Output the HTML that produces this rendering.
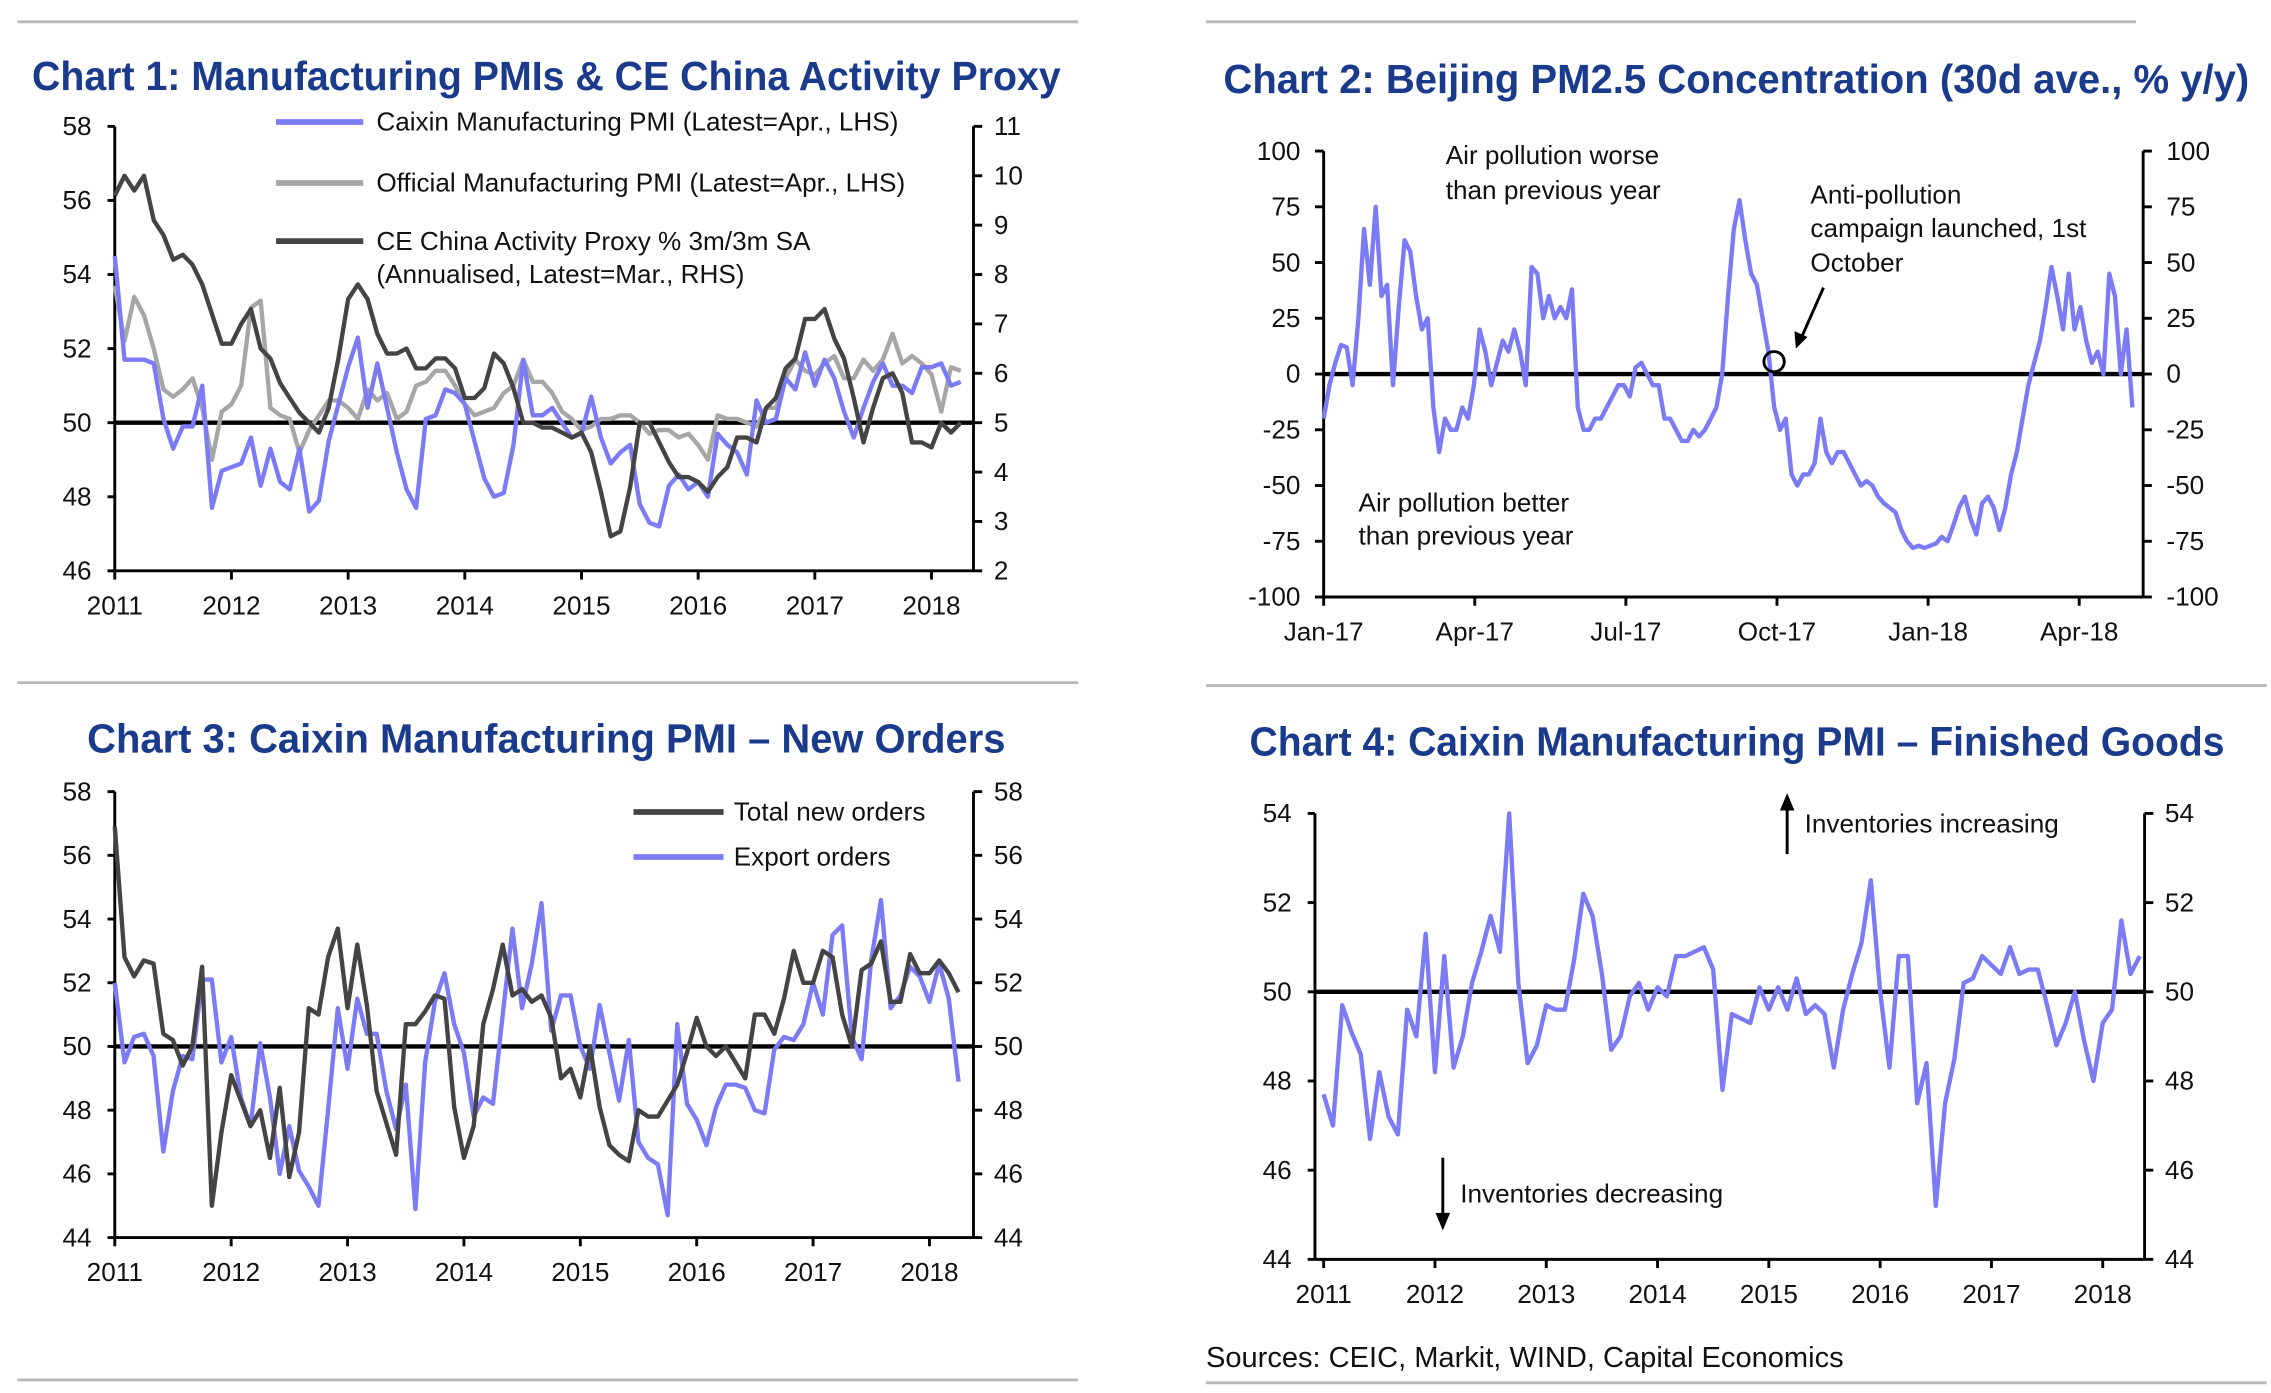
<!DOCTYPE html>
<html><head><meta charset="utf-8"><style>
html,body{margin:0;padding:0;background:#fff;}
svg{display:block;}
text{font-family:"Liberation Sans",sans-serif;}
</style></head><body>
<svg id="s" width="2271" height="1393" viewBox="0 0 1563 959" preserveAspectRatio="none" xmlns="http://www.w3.org/2000/svg"></svg>
<script>
// ---- Chart 1 data ----
const c1Years=['2011','2012','2013','2014','2015','2016','2017','2018'];
const c1LeftTicks=[46,48,50,52,54,56,58];
const c1RightTicks=[2,3,4,5,6,7,8,9,10,11];
const c1Caixin=[54.5,51.7,51.7,51.7,51.6,50.1,49.3,49.9,49.9,51.0,47.7,48.7,
48.8,48.9,49.6,48.3,49.3,48.4,48.2,49.3,47.6,47.9,49.5,50.5,
51.5,52.3,50.4,51.6,50.4,49.2,48.2,47.7,50.1,50.2,50.9,50.8,
50.5,49.5,48.5,48.0,48.1,49.4,51.7,50.2,50.2,50.4,50.0,49.6,
49.7,50.7,49.6,48.9,49.2,49.4,47.8,47.3,47.2,48.3,48.6,48.2,
48.4,48.0,49.7,49.4,49.2,48.6,50.6,50.0,50.1,51.2,50.9,51.9,
51.0,51.7,51.2,50.3,49.6,50.4,51.1,51.6,51.0,51.0,50.8,51.5,
51.5,51.6,51.0,51.1];
const c1Official=[53.7,52.2,53.4,52.9,52.0,50.9,50.7,50.9,51.2,50.4,49.0,50.3,
50.5,51.0,53.1,53.3,50.4,50.2,50.1,49.2,49.8,50.2,50.6,50.6,
50.4,50.1,50.9,50.6,50.8,50.1,50.3,51.0,51.1,51.4,51.4,51.0,
50.5,50.2,50.3,50.4,50.8,51.0,51.7,51.1,51.1,50.8,50.3,50.1,
49.8,49.9,50.1,50.1,50.2,50.2,50.0,49.7,49.8,49.8,49.6,49.7,
49.4,49.0,50.2,50.1,50.1,50.0,49.9,50.4,50.4,51.2,51.7,51.4,
51.3,51.6,51.8,51.2,51.2,51.7,51.4,51.7,52.4,51.6,51.8,51.6,
51.3,50.3,51.5,51.4];
const c1Proxy=[9.6,10.0,9.7,10.0,9.1,8.8,8.3,8.4,8.2,7.8,7.2,6.6,
6.6,7.0,7.3,6.5,6.3,5.8,5.5,5.2,5.0,4.8,5.3,6.3,
7.5,7.8,7.5,6.8,6.4,6.4,6.5,6.1,6.1,6.3,6.3,6.1,
5.5,5.5,5.7,6.4,6.2,5.7,5.0,5.0,4.9,4.9,4.8,4.7,
4.8,4.4,3.6,2.7,2.8,3.7,5.0,5.0,4.6,4.2,3.9,3.9,
3.8,3.6,3.9,4.1,4.7,4.7,4.6,5.3,5.5,6.1,6.3,7.1,
7.1,7.3,6.7,6.3,5.5,4.6,5.3,5.9,6.0,5.6,4.6,4.6,
4.5,5.0,4.8,5.0];
// ---- Chart 2 data ----
const c2Months=['Jan-17','Apr-17','Jul-17','Oct-17','Jan-18','Apr-18'];
const c2Ticks=[-100,-75,-50,-25,0,25,50,75,100];
const c2Values=[-20,-5,5,13,12,-5,25,65,40,75,35,40,-5,30,60,55,35,20,25,-15,-35,-20,-25,-25,-15,-20,-5,20,10,-5,5,15,10,20,10,-5,48,45,25,35,25,30,25,38,-15,-25,-25,-20,-20,-15,-10,-5,-5,-10,3,5,0,-5,-5,-20,-20,-25,-30,-30,-25,-28,-25,-20,-15,0,35,65,78,60,45,40,25,10,-15,-25,-20,-45,-50,-45,-45,-40,-20,-35,-40,-35,-35,-40,-45,-50,-48,-50,-55,-58,-60,-62,-70,-75,-78,-77,-78,-77,-76,-73,-75,-68,-60,-55,-65,-72,-58,-55,-60,-70,-60,-45,-35,-20,-5,5,15,30,48,35,20,45,20,30,15,5,10,0,45,35,0,20,-15];
const c2TotalDays=[487];
// ---- Chart 3 data ----
const c3Years=['2011','2012','2013','2014','2015','2016','2017','2018'];
const c3Ticks=[44,46,48,50,52,54,56,58];
const c3Total=[56.9,52.8,52.2,52.7,52.6,50.4,50.2,49.4,50.0,52.5,45.0,47.3,
49.1,48.3,47.5,48.0,46.5,48.7,45.9,47.3,51.2,51.0,52.8,53.7,
51.2,53.2,51.3,48.6,47.6,46.6,50.7,50.7,51.1,51.6,51.5,48.1,
46.5,47.5,50.7,51.8,53.2,51.6,51.8,51.4,51.6,50.9,49.0,49.3,
48.4,50.0,48.1,46.9,46.6,46.4,48.0,47.8,47.8,48.3,48.8,49.8,
50.9,50.0,49.7,50.0,49.5,49.0,51.0,51.0,50.4,51.5,53.0,52.0,
52.0,53.0,52.8,51.0,50.0,52.4,52.6,53.3,51.4,51.4,52.9,52.3,
52.3,52.7,52.3,51.7];
const c3Export=[52.0,49.5,50.3,50.4,49.7,46.7,48.6,49.7,49.6,52.1,52.1,49.5,
50.3,48.4,47.5,50.1,48.4,46.0,47.5,46.1,45.6,45.0,48.0,51.2,
49.3,51.5,50.4,50.4,48.6,47.4,48.8,44.9,49.5,51.4,52.3,50.7,
49.8,47.8,48.4,48.2,51.0,53.7,51.2,52.6,54.5,50.5,51.6,51.6,
50.0,49.3,51.3,49.8,48.3,50.2,47.0,46.5,46.3,44.7,50.7,48.2,
47.7,46.9,48.1,48.8,48.8,48.7,48.0,47.9,49.9,50.3,50.2,50.7,
52.0,51.0,53.5,53.8,50.3,49.6,52.7,54.6,51.2,51.6,52.5,52.2,
51.4,52.6,51.5,48.9];
// ---- Chart 4 data ----
const c4Years=['2011','2012','2013','2014','2015','2016','2017','2018'];
const c4Ticks=[44,46,48,50,52,54];
const c4Values=[47.7,47.0,49.7,49.1,48.6,46.7,48.2,47.2,46.8,49.6,49.0,51.3,
48.2,50.8,48.3,49.0,50.2,50.9,51.7,50.9,54.0,50.2,48.4,48.8,
49.7,49.6,49.6,50.7,52.2,51.7,50.4,48.7,49.0,49.9,50.2,49.6,
50.1,49.9,50.8,50.8,50.9,51.0,50.5,47.8,49.5,49.4,49.3,50.1,
49.6,50.1,49.6,50.3,49.5,49.7,49.5,48.3,49.6,50.4,51.1,52.5,
50.0,48.3,50.8,50.8,47.5,48.4,45.2,47.5,48.5,50.2,50.3,50.8,
50.6,50.4,51.0,50.4,50.5,50.5,49.7,48.8,49.3,50.0,48.9,48.0,
49.3,49.6,51.6,50.4,50.8];

const S=document.getElementById('s');
const NS='http://www.w3.org/2000/svg';
function mk(tag,attrs,txt){const e=document.createElementNS(NS,tag);for(const k in attrs)e.setAttribute(k,attrs[k]);if(txt!==undefined)e.textContent=txt;S.appendChild(e);return e;}
function lin(x1,y1,x2,y2,c,w,name){const e=mk('line',{x1,y1,x2,y2,stroke:c,'stroke-width':w});

return e;}
function txt(x,y,s,size,anchor,name,extra){const a={x,y,'font-size':size,'text-anchor':anchor||'start',fill:'#111'};if(extra)for(const k in extra)a[k]=extra[k];const e=mk('text',a,s);

return e;}
function series(vals,xf,yf,color,w,name){const d=vals.map((v,i)=>(i?'L':'M')+xf(i).toFixed(1)+','+yf(v).toFixed(1)).join('');const e=mk('path',{d,fill:'none',stroke:color,'stroke-width':w,'stroke-linejoin':'round'});

return e;}
const BLUE='#7b7bf5',GRAY='#a6a6a6',DARK='#444444',NAVY='#1a3a8c';

// separators
lin(12,15,742,15,'#b8b8b8',2,'top-rule-left');lin(830,15,1470,15,'#b8b8b8',2,'top-rule-right');
lin(12,470,742,470,'#b8b8b8',2,'mid-rule-left');lin(830,472,1560,472,'#b8b8b8',2,'mid-rule-right');
lin(12,950,742,950,'#b8b8b8',2,'bottom-rule-left');lin(830,952,1560,952,'#b8b8b8',2,'bottom-rule-right');

function titleT(x,y,s,len,name){const e=txt(x,y,s,28,'start',name,{'font-weight':'bold',fill:NAVY,textLength:len,lengthAdjust:'spacingAndGlyphs'});}
titleT(22,62,'Chart 1: Manufacturing PMIs & CE China Activity Proxy',708,'chart1-title');
titleT(842,64,'Chart 2: Beijing PM2.5 Concentration (30d ave., % y/y)',706,'chart2-title');
titleT(60,518,'Chart 3: Caixin Manufacturing PMI \u2013 New Orders',632,'chart3-title');
titleT(860,520,'Chart 4: Caixin Manufacturing PMI \u2013 Finished Goods',671,'chart4-title');

// generic monthly chart
function monthly(cfg){
  const {x0,xPerYear,yTop,yBot,vMin,vMax,xRight,years,ticks,rTicks,rMin,rMax,pre}=cfg;
  const X=i=>x0+i*xPerYear/12;
  const Y=v=>yBot-(v-vMin)/(vMax-vMin)*(yBot-yTop);
  lin(cfg.xLeft,yTop,cfg.xLeft,yBot,'#000',2,pre+'-left-axis');
  lin(cfg.xLeft,yBot,xRight,yBot,'#000',2,pre+'-x-axis');
  lin(xRight,yTop,xRight,yBot,'#000',2,pre+'-right-axis');
  ticks.forEach(t=>{const y=Y(t);lin(cfg.xLeft-5,y,cfg.xLeft,y,'#000',2,pre+'-left-tick');
    txt(cfg.xLeft-16,y+6,String(t),18,'end',pre+'-left-tick-label');});
  const rt=rTicks||ticks,rmn=rMin!==undefined?rMin:vMin,rmx=rMax!==undefined?rMax:vMax;
  rt.forEach(t=>{const y=yBot-(t-rmn)/(rmx-rmn)*(yBot-yTop);lin(xRight,y,xRight+6,y,'#000',2,pre+'-right-tick');
    txt(xRight+14,y+6,String(t),18,'start',pre+'-right-tick-label');});
  years.forEach((yr,k)=>{const x=x0+k*xPerYear;lin(x,yBot,x,yBot+6,'#000',2,pre+'-x-tick');
    txt(x,yBot+30,yr,18,'middle',pre+'-x-tick-label');});
  lin(cfg.xLeft,Y(50),xRight,Y(50),'#000',3,pre+'-reference-line-50');
  return {X,Y};
}
// Chart 1
const a1=monthly({pre:'chart1',x0:79,xLeft:79,xPerYear:80.3,yTop:87,yBot:393,vMin:46,vMax:58,xRight:670,years:c1Years,ticks:c1LeftTicks,rTicks:c1RightTicks,rMin:2,rMax:11});
const Y1r=v=>393-(v-2)/9*306;
series(c1Official,a1.X,a1.Y,GRAY,3,'official-pmi-line');
series(c1Caixin,a1.X,a1.Y,BLUE,3,'caixin-pmi-line');
series(c1Proxy,a1.X,Y1r,DARK,3,'ce-activity-proxy-line');
lin(190,84,250,84,BLUE,4,'legend-caixin-swatch');txt(259,90,'Caixin Manufacturing PMI (Latest=Apr., LHS)',18,'start','legend-caixin');
lin(190,126,250,126,GRAY,4,'legend-official-swatch');txt(259,132,'Official Manufacturing PMI (Latest=Apr., LHS)',18,'start','legend-official');
lin(190,166,250,166,DARK,4,'legend-proxy-swatch');txt(259,172,'CE China Activity Proxy % 3m/3m SA',18,'start','legend-proxy');
txt(259,195,'(Annualised, Latest=Mar., RHS)',18,'start','legend-proxy-line2');

// Chart 2
(function(){
  const xL=911,xR=1475,yTop=104,yBot=411;
  const pxPerDay=520/455;
  const X=i=>xL+i*(c2TotalDays[0]/(c2Values.length-1))*pxPerDay;
  const Y=v=>yBot-(v+100)/200*(yBot-yTop);
  lin(xL,yTop,xL,yBot,'#000',2,'chart2-left-axis');lin(xR,yTop,xR,yBot,'#000',2,'chart2-right-axis');
  lin(xL,yBot,xR,yBot,'#000',2,'chart2-x-axis');
  c2Ticks.forEach(t=>{const y=Y(t);lin(xL-6,y,xL,y,'#000',2,'chart2-left-tick');lin(xR,y,xR+6,y,'#000',2,'chart2-right-tick');
    txt(xL-16,y+6,String(t),18,'end','chart2-left-tick-label');txt(xR+16,y+6,String(t),18,'start','chart2-right-tick-label');});
  c2Months.forEach((m,k)=>{const x=xL+k*104;lin(x,yBot,x,yBot+6,'#000',2,'chart2-x-tick');txt(x,yBot+30,m,18,'middle','chart2-x-tick-label');});
  lin(xL,Y(0),xR,Y(0),'#000',3,'chart2-zero-line');
  series(c2Values,X,Y,BLUE,3,'pm25-line');
  txt(995,113,'Air pollution worse',18,'start','annotation-worse');txt(995,137,'than previous year',18,'start','annotation-worse-2');
  txt(935,352,'Air pollution better',18,'start','annotation-better');txt(935,375,'than previous year',18,'start','annotation-better-2');
  txt(1246,140,'Anti-pollution',18,'start','annotation-campaign');txt(1246,163,'campaign launched, 1st',18,'start','annotation-campaign-2');txt(1246,187,'October',18,'start','annotation-campaign-3');
  lin(1255,198,1240,232,'#000',2,'campaign-arrow');
  const ah=mk('polygon',{points:'1236,240 1235,228 1244,232',fill:'#000'});
  
  
  const c=mk('circle',{cx:1221,cy:249,r:7,fill:'none',stroke:'#000','stroke-width':2});
  
  
})();

// Chart 3
const a3=monthly({pre:'chart3',x0:79,xLeft:79,xPerYear:80.1,yTop:545,yBot:852,vMin:44,vMax:58,xRight:670,years:c3Years,ticks:c3Ticks});
series(c3Export,a3.X,a3.Y,BLUE,3,'export-orders-line');
series(c3Total,a3.X,a3.Y,DARK,3,'total-new-orders-line');
lin(436,559,498,559,DARK,4,'legend-total-swatch');txt(505,565,'Total new orders',18,'start','legend-total-new-orders');
lin(436,590,498,590,BLUE,4,'legend-export-swatch');txt(505,596,'Export orders',18,'start','legend-export-orders');

// Chart 4
const a4=monthly({pre:'chart4',x0:911,xLeft:905,xPerYear:76.6,yTop:560,yBot:867,vMin:44,vMax:54,xRight:1476,years:c4Years,ticks:c4Ticks});
series(c4Values,a4.X,a4.Y,BLUE,3,'finished-goods-line');
lin(1230,588,1230,556,'#000',2,'up-arrow');
const up=mk('polygon',{points:'1230,546 1225,558 1235,558',fill:'#000'});


txt(1242,573,'Inventories increasing',18,'start','annotation-increasing');
lin(993,797,993,836,'#000',2,'down-arrow');
const dn=mk('polygon',{points:'993,847 988,835 998,835',fill:'#000'});


txt(1005,828,'Inventories decreasing',18,'start','annotation-decreasing');
txt(830,941,'Sources: CEIC, Markit, WIND, Capital Economics',20,'start','sources-note');
</script>
</body></html>
